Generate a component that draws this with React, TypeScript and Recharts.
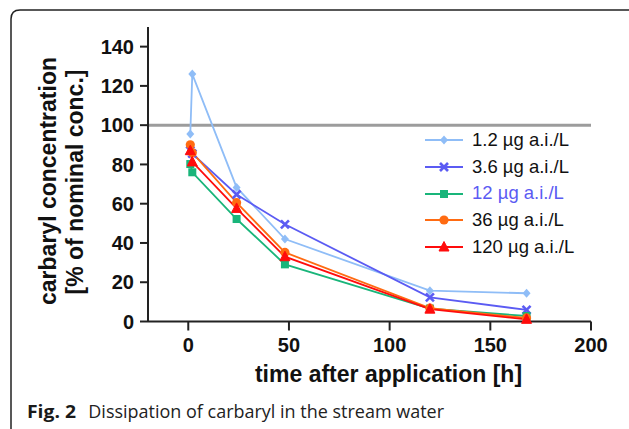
import React from 'react';
import { LineChart, Line, XAxis, YAxis, ReferenceLine, Legend, Label } from 'recharts';

// ---- data ----
const hours = [1, 2, 24, 48, 120, 168];
const conc1_2 = [95.5, 126, 68.3, 42, 15.7, 14.4];
const conc3_6 = [87, 85.5, 64.7, 49.5, 12.3, 5.9];
const conc12 = [80.2, 76, 52.2, 29.1, 6.6, 2.8];
const conc36 = [90, 86, 60.5, 35.2, 6.8, 1.8];
const conc120 = [87, 81.3, 57.6, 33, 6.3, 1.1];
const seriesNames = ['1.2 µg a.i./L', '3.6 µg a.i./L', '12 µg a.i./L', '36 µg a.i./L', '120 µg a.i./L'];
const xTicks = [0, 50, 100, 150, 200];
const yTicks = [0, 20, 40, 60, 80, 100, 120, 140];
const nominalLevel = 100;
const xTitle = 'time after application [h]';
const yTitle1 = 'carbaryl concentration';
const yTitle2 = '[% of nominal conc.]';
const captionBold = 'Fig. 2';
const captionText = 'Dissipation of carbaryl in the stream water';

const seriesValues = [conc1_2, conc3_6, conc12, conc36, conc120];
const seriesKeys = ['s1', 's2', 's3', 's4', 's5'];
const colors = ['#8fbdf7', '#5b5bf3', '#19b57a', '#ff6b12', '#ff0c0c'];
const shapes = ['diamond', 'cross', 'square', 'circle', 'triangle'];

const data = hours.map((t, i) => {
  const row: any = { t };
  seriesKeys.forEach((k, j) => {
    row[k] = seriesValues[j][i];
  });
  return row;
});

const FONT = '"Liberation Sans", Arial, Helvetica, sans-serif';

function marker(shape: string, cx: number, cy: number, color: string, key?: any) {
  switch (shape) {
    case 'diamond':
      return <path key={key} d={`M${cx} ${cy - 4.5}L${cx + 4} ${cy}L${cx} ${cy + 4.5}L${cx - 4} ${cy}Z`} fill={color} />;
    case 'cross':
      return (
        <g key={key} stroke={color} strokeWidth={2.6} strokeLinecap="butt">
          <line x1={cx - 4} y1={cy - 4} x2={cx + 4} y2={cy + 4} />
          <line x1={cx - 4} y1={cy + 4} x2={cx + 4} y2={cy - 4} />
        </g>
      );
    case 'square':
      return <rect key={key} x={cx - 4} y={cy - 4} width={8} height={8} fill={color} />;
    case 'circle':
      return <circle key={key} cx={cx} cy={cy} r={4.6} fill={color} />;
    default:
      return <path key={key} d={`M${cx} ${cy - 5.5}L${cx + 5} ${cy + 4}L${cx - 5} ${cy + 4}Z`} fill={color} stroke={color} strokeWidth={1} strokeLinejoin="round" />;
  }
}

const makeDot = (shape: string, color: string) => (props: any) => {
  const { cx, cy, index } = props;
  if (cx == null || cy == null) return <g key={`e${index}`} />;
  return marker(shape, cx, cy, color, `d${index}`);
};

const renderLegend = () => (
  <div style={{ fontFamily: FONT, fontSize: 18.5 }}>
    {seriesNames.map((name, i) => (
      <div key={name} style={{ display: 'flex', alignItems: 'center', height: 26.8 }}>
        <svg width={40} height={14} style={{ display: 'block' }}>
          <line x1={0} y1={7} x2={38} y2={7} stroke={colors[i]} strokeWidth={2} />
          {marker(shapes[i], 19, 7, colors[i])}
        </svg>
        <span style={{ marginLeft: 7, lineHeight: 1, color: i === 2 ? colors[1] : '#111', whiteSpace: 'nowrap' }}>{name}</span>
      </div>
    ))}
  </div>
);

const renderYTitle = () => (
  <g fontFamily={FONT} fontWeight="bold" fontSize={23} fill="#111">
    <text x={55.5} y={181} textAnchor="middle" transform="rotate(-90 55.5 181)">{yTitle1}</text>
    <text x={82.5} y={182} textAnchor="middle" transform="rotate(-90 82.5 182)">{yTitle2}</text>
  </g>
);

const renderXTitle = () => (
  <text x={388.5} y={382} textAnchor="middle" fontFamily={FONT} fontWeight="bold" fontSize={23} fill="#111">
    {xTitle}
  </text>
);

const axisStroke = { stroke: '#222', strokeWidth: 2 };
const tickStyle = { fontSize: 20, fontWeight: 'bold', fill: '#111', fontFamily: FONT };

export default function App() {
  return (
    <div style={{ position: 'absolute', left: 0, top: 0, width: 629, height: 429, background: '#fff', overflow: 'hidden' }}>
      <LineChart
        width={629}
        height={429}
        data={data}
        margin={{ top: 27, right: 38, bottom: 77.5, left: 88 }}
      >
        <XAxis
          type="number"
          dataKey="t"
          domain={[-20, 200]}
          ticks={xTicks}
          interval={0}
          height={30}
          tickSize={9}
          tickMargin={7}
          axisLine={axisStroke}
          tickLine={axisStroke}
          tick={tickStyle}
          label={{ content: renderXTitle }}
        />
        <YAxis
          type="number"
          domain={[0, 150]}
          ticks={yTicks}
          interval={0}
          width={60}
          tickSize={8}
          tickMargin={6}
          axisLine={axisStroke}
          tickLine={axisStroke}
          tick={tickStyle}
          label={{ content: renderYTitle }}
        />
        <ReferenceLine y={nominalLevel} stroke="#9c9c9c" strokeWidth={3} ifOverflow="extendDomain" />
        {seriesKeys.map((k, i) => (
          <Line
            key={k}
            type="linear"
            dataKey={k}
            name={seriesNames[i]}
            stroke={colors[i]}
            strokeWidth={1.8}
            dot={makeDot(shapes[i], colors[i])}
            activeDot={false}
            isAnimationActive={false}
          />
        ))}
        <Legend
          layout="vertical"
          align="center"
          verticalAlign="middle"
          content={renderLegend}
          wrapperStyle={{ left: 425, top: 126.6, width: 200 }}
        />
      </LineChart>
      <svg width={629} height={429} style={{ position: 'absolute', left: 0, top: 0, pointerEvents: 'none' }}>
        <path d="M11 429 L11 19 Q11 10 20 10 L629 10" fill="none" stroke="#222" strokeWidth={1.5} />
        <text x={27} y={418} fontFamily='"Open Sans", "Noto Sans", sans-serif' fontWeight="bold" fontSize={18.5} fill="#1a1a1a" textLength={49} lengthAdjust="spacingAndGlyphs">{captionBold}</text>
        <text x={88.3} y={418} fontFamily='"Open Sans", "Noto Sans", sans-serif' fontSize={18.5} fill="#222" textLength={355.7} lengthAdjust="spacingAndGlyphs">{captionText}</text>
      </svg>
    </div>
  );
}
